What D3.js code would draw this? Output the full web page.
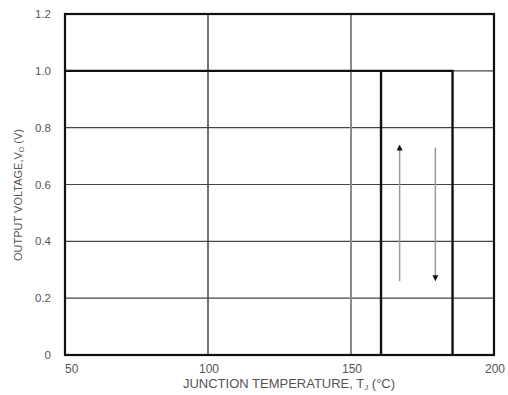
<!DOCTYPE html>
<html>
<head>
<meta charset="utf-8">
<script src="https://cdn.jsdelivr.net/npm/d3@7"></script>
<style>
  body { margin: 0; background: #fff; }
  text { font-family: "Liberation Sans", Arial, sans-serif; }
</style>
</head>
<body>
<script>
// Chart values
const xTicks = [50, 100, 150, 200];
const yTicks = [0, 0.2, 0.4, 0.6, 0.8, 1.0, 1.2];
const yTickLabels = ['0', '0.2', '0.4', '0.6', '0.8', '1.0', '1.2'];

// falling branch: output high until shutdown, then drops
const fallT = [50, 185.5, 185.5];
const fallV = [1.0, 1.0, 0];
// rising branch: recovers when cooled down
const riseT = [160.5, 160.5];
const riseV = [0, 1.0];

// hysteresis direction arrows
const arrowT = [167, 179.5];
const arrowFrom = [0.26, 0.73];
const arrowTo = [0.73, 0.27];

const W = 508, H = 395;
const LEFT = 65, RIGHT = 494, TOP = 14, BOTTOM = 355;

const svg = d3.select('body').append('svg')
  .attr('width', W)
  .attr('height', H);

const x = d3.scaleLinear().domain([50, 200]).range([LEFT, RIGHT]);
const y = d3.scaleLinear().domain([0, 1.2]).range([BOTTOM, TOP]);

const defs = svg.append('defs');
defs.append('marker')
  .attr('id', 'head')
  .attr('viewBox', '0 0 10 10')
  .attr('refX', 5).attr('refY', 5)
  .attr('markerWidth', 6).attr('markerHeight', 6)
  .attr('markerUnits', 'userSpaceOnUse')
  .attr('orient', 'auto')
  .append('path')
    .attr('d', 'M0,0 L10,5 L0,10 Z')
    .attr('fill', '#111');

// horizontal grid
svg.selectAll('line.hgrid')
  .data(yTicks.filter(d => d > 0 && d < 1.2))
  .enter()
  .append('line')
    .attr('class', 'hgrid')
    .attr('x1', LEFT).attr('x2', RIGHT)
    .attr('y1', d => y(d)).attr('y2', d => y(d))
    .attr('stroke', '#444')
    .attr('stroke-width', 1.2);

// vertical grid (150 line is lighter)
svg.selectAll('line.vgrid')
  .data([100, 150])
  .enter()
  .append('line')
    .attr('class', 'vgrid')
    .attr('x1', d => x(d)).attr('x2', d => x(d))
    .attr('y1', TOP).attr('y2', BOTTOM)
    .attr('stroke', d => d === 150 ? '#8a8a8a' : '#444')
    .attr('stroke-width', d => d === 150 ? 2 : 1.5);

// frame
svg.append('rect')
  .attr('x', LEFT).attr('y', TOP)
  .attr('width', RIGHT - LEFT).attr('height', BOTTOM - TOP)
  .attr('fill', 'none')
  .attr('stroke', '#111')
  .attr('stroke-width', 2.2);

// curve
const line = d3.line().x(d => x(d[0])).y(d => y(d[1]));
svg.append('path')
  .attr('d', line(d3.zip(fallT, fallV)))
  .attr('fill', 'none')
  .attr('stroke', '#111')
  .attr('stroke-width', 2.4);
svg.append('path')
  .attr('d', line(d3.zip(riseT, riseV)))
  .attr('fill', 'none')
  .attr('stroke', '#111')
  .attr('stroke-width', 2.4);

// arrows
svg.selectAll('line.arrow')
  .data(arrowT)
  .enter()
  .append('line')
    .attr('class', 'arrow')
    .attr('x1', d => x(d)).attr('x2', d => x(d))
    .attr('y1', (d, i) => y(arrowFrom[i]))
    .attr('y2', (d, i) => y(arrowTo[i]))
    .attr('stroke', '#999')
    .attr('stroke-width', 1.5)
    .attr('marker-end', 'url(#head)');

// y tick labels
svg.selectAll('text.ytick')
  .data(yTicks)
  .enter()
  .append('text')
    .attr('class', 'ytick')
    .attr('x', 51)
    .attr('y', d => y(d) + 4)
    .attr('text-anchor', 'end')
    .attr('font-size', '11.5px')
    .attr('fill', '#555')
    .text((d, i) => yTickLabels[i]);

// x tick labels
svg.selectAll('text.xtick')
  .data(xTicks)
  .enter()
  .append('text')
    .attr('class', 'xtick')
    .attr('x', (d, i) => i === 0 ? x(d) : x(d) + 1)
    .attr('y', 373)
    .attr('text-anchor', (d, i) => i === 0 ? 'start' : 'middle')
    .attr('font-size', '12px')
    .attr('fill', '#555')
    .text(d => d);

// axis titles
const xt = svg.append('text')
  .attr('x', 289).attr('y', 388)
  .attr('text-anchor', 'middle')
  .attr('font-size', '13px')
  .attr('fill', '#555');
xt.append('tspan').text('JUNCTION TEMPERATURE, T');
xt.append('tspan').attr('font-size', '8px').attr('dy', 2).text('J');
xt.append('tspan').attr('dy', -2).text(' (°C)');

const yt = svg.append('text')
  .attr('transform', 'translate(22,195) rotate(-90)')
  .attr('text-anchor', 'middle')
  .attr('font-size', '11px')
  .attr('fill', '#555');
yt.append('tspan').text('OUTPUT VOLTAGE,V');
yt.append('tspan').attr('font-size', '7px').attr('dy', 2).text('O');
yt.append('tspan').attr('dy', -2).text(' (V)');
</script>
</body>
</html>
